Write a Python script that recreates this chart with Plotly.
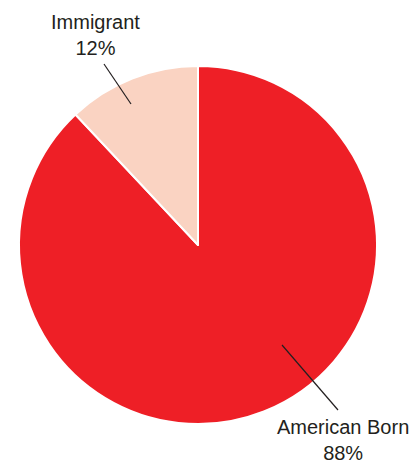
import plotly.graph_objects as go

labels = ["American Born", "Immigrant"]
values = [88, 12]
colors = ["#EE1F26", "#FAD3C2"]

W, H = 420, 463
cx, cy, r = 198, 245, 179

fig = go.Figure(go.Pie(
    labels=labels, values=values, sort=False, direction="clockwise",
    rotation=0, textinfo="none", hoverinfo="label+percent",
    marker=dict(colors=colors, line=dict(color="white", width=2)),
    domain=dict(x=[(cx - r) / W, (cx + r) / W], y=[1 - (cy + r) / H, 1 - (cy - r) / H]),
    showlegend=False,
))

def px(x):
    return x / W

def py(y):
    return 1 - y / H

font = dict(family="Liberation Sans, Arial, sans-serif", size=20, color="#231F20")
fig.add_annotation(x=px(95), y=py(35), xref="paper", yref="paper", showarrow=False,
                   text=f"{labels[1]}<br>{values[1]}%", font=font, align="center",
                   xanchor="center", yanchor="middle")
fig.add_annotation(x=px(343), y=py(440), xref="paper", yref="paper", showarrow=False,
                   text=f"{labels[0]}<br>{values[0]}%", font=font, align="center",
                   xanchor="center", yanchor="middle")
fig.add_shape(type="line", xref="paper", yref="paper", x0=px(104), y0=py(64), x1=px(131), y1=py(104),
              line=dict(color="#231F20", width=1.2))
fig.add_shape(type="line", xref="paper", yref="paper", x0=px(282), y0=py(345), x1=px(338), y1=py(410),
              line=dict(color="#231F20", width=1.2))

fig.update_layout(width=W, height=H, margin=dict(l=0, r=0, t=0, b=0),
                  paper_bgcolor="white", plot_bgcolor="white")
fig.write_html("out.html", config={"displayModeBar": False},
               post_script="document.body.style.margin='0';document.body.style.overflow='hidden';")
